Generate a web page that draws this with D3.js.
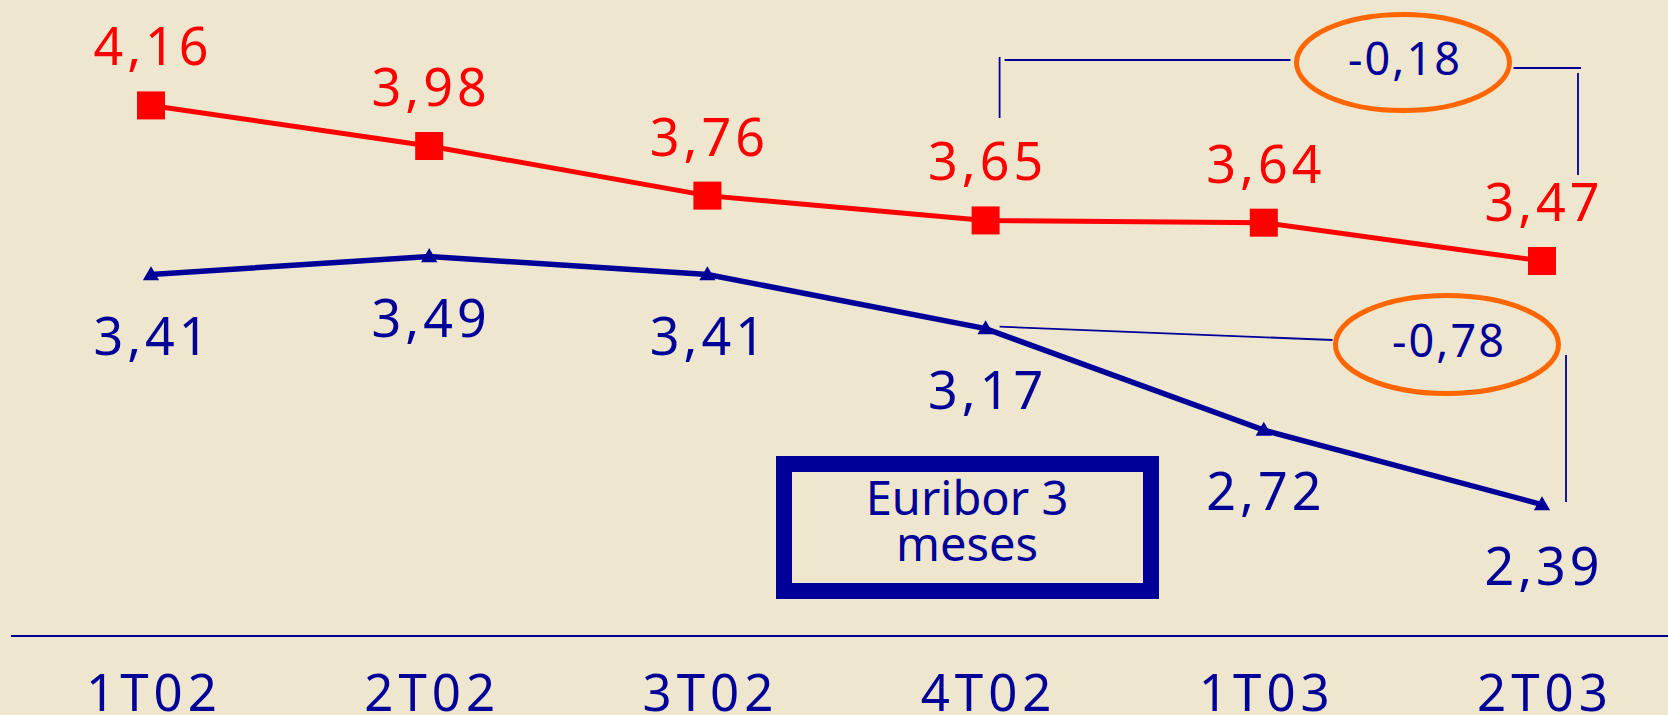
<!DOCTYPE html>
<html>
<head>
<meta charset="utf-8">
<script src="https://cdn.jsdelivr.net/npm/d3@7"></script>
<style>
  html, body { margin: 0; padding: 0; background: #EEE6CE; }
  svg { display: block; }
</style>
</head>
<body>
<svg id="chart" width="1668" height="715"></svg>
<script>
// ---- data ----
const categories = ["1T02", "2T02", "3T02", "4T02", "1T03", "2T03"];
const redValues  = [4.16, 3.98, 3.76, 3.65, 3.64, 3.47];
const blueValues = [3.41, 3.49, 3.41, 3.17, 2.72, 2.39];
const redLabels  = ["4,16", "3,98", "3,76", "3,65", "3,64", "3,47"];
const blueLabels = ["3,41", "3,49", "3,41", "3,17", "2,72", "2,39"];
const deltaRed   = "-0,18";
const deltaBlue  = "-0,78";
const boxLines   = ["Euribor 3", "meses"];

// ---- setup ----
const W = 1668, H = 715;
const BLUE = "#000099", RED = "#FF0000", ORANGE = "#FF6600";
const FONT = "'Noto Sans', 'DejaVu Sans', sans-serif";
const svg = d3.select("#chart");
svg.append("rect").attr("width", W).attr("height", H).attr("fill", "#EEE6CE");

const x = d3.scalePoint().domain(categories).range([151, 1542]);
const y = d3.scaleLinear().domain([2, 4.5]).range([592.5, 28.75]);

// ---- x axis ----
const axisY = 636;
const xAxis = d3.axisBottom(x).tickSize(0).tickPadding(0);
const gx = svg.append("g").attr("transform", `translate(0,${axisY})`).call(xAxis);
gx.select(".domain").remove();
gx.append("line").attr("x1", 11).attr("x2", W).attr("y1", 0).attr("y2", 0)
  .attr("stroke", BLUE).attr("stroke-width", 2.2);
gx.selectAll(".tick text")
  .attr("y", 75).attr("dy", 0).attr("dx", 2.5)
  .attr("fill", BLUE)
  .style("font-family", FONT).style("font-size", "51px")
  .style("letter-spacing", "5px");

// ---- lines ----
const line = (vals) => d3.line().x((d, i) => x(categories[i])).y(d => y(d))(vals);
svg.append("path").attr("d", line(redValues)).attr("fill", "none")
  .attr("stroke", RED).attr("stroke-width", 5);
svg.append("path").attr("d", line(blueValues)).attr("fill", "none")
  .attr("stroke", BLUE).attr("stroke-width", 5.5);

// ---- markers ----
svg.selectAll(".sq").data(redValues).join("path")
  .attr("transform", (d, i) => `translate(${x(categories[i])},${y(d)})`)
  .attr("d", d3.symbol(d3.symbolSquare, 28 * 28))
  .attr("fill", RED);
svg.selectAll(".tri").data(blueValues).join("path")
  .attr("transform", (d, i) => `translate(${x(categories[i])},${y(d) + 1})`)
  .attr("d", d3.symbol(d3.symbolTriangle, 115))
  .attr("fill", BLUE);

// ---- value labels ----
svg.selectAll(".rl").data(redValues).join("text")
  .attr("x", (d, i) => x(categories[i]) + 2)
  .attr("y", d => y(d) - 40)
  .attr("text-anchor", "middle").attr("fill", RED)
  .style("font-family", FONT).style("font-size", "52px").style("letter-spacing", "4px")
  .text((d, i) => redLabels[i]);
svg.selectAll(".bl").data(blueValues).join("text")
  .attr("x", (d, i) => x(categories[i]) + 2)
  .attr("y", d => y(d) + 80)
  .attr("text-anchor", "middle").attr("fill", BLUE)
  .style("font-family", FONT).style("font-size", "52px").style("letter-spacing", "4px")
  .text((d, i) => blueLabels[i]);

// ---- annotations: difference brackets ----
const xa = x("4T02"), xb = x("2T03");
const ann = svg.append("g").attr("stroke", BLUE).attr("stroke-width", 1.8).attr("fill", "none");
// top (red) bracket
const e1 = { cx: xb - 139, cy: 62.5, rx: 106.5, ry: 48 };
ann.append("line").attr("x1", xa + 14).attr("x2", xa + 14).attr("y1", 57).attr("y2", 118);
ann.append("line").attr("x1", xa + 19).attr("x2", e1.cx - e1.rx - 6).attr("y1", 60).attr("y2", 60);
ann.append("line").attr("x1", e1.cx + e1.rx + 4).attr("x2", xb + 39).attr("y1", 68).attr("y2", 68);
ann.append("line").attr("x1", xb + 36).attr("x2", xb + 36).attr("y1", 73).attr("y2", 175);
// bottom (blue) bracket
const e2 = { cx: xb - 95, cy: 344.5, rx: 111.5, ry: 49 };
ann.append("line").attr("x1", xa + 14).attr("y1", y(blueValues[3]) - 2)
  .attr("x2", e2.cx - e2.rx - 3).attr("y2", 340);
ann.append("line").attr("x1", xb + 24).attr("x2", xb + 24).attr("y1", 355).attr("y2", 502);

[[e1, deltaRed], [e2, deltaBlue]].forEach(([e, t]) => {
  svg.append("ellipse").attr("cx", e.cx).attr("cy", e.cy).attr("rx", e.rx).attr("ry", e.ry)
    .attr("fill", "none").attr("stroke", ORANGE).attr("stroke-width", 5);
  svg.append("text").attr("x", e.cx + 2).attr("y", e.cy + 12.5)
    .attr("text-anchor", "middle").attr("fill", BLUE)
    .style("font-family", FONT).style("font-size", "45px").style("letter-spacing", "2px")
    .text(t);
});

// ---- legend box ----
svg.append("rect").attr("x", 784).attr("y", 464).attr("width", 367).attr("height", 127)
  .attr("fill", "none").attr("stroke", BLUE).attr("stroke-width", 16);
svg.selectAll(".bt").data(boxLines).join("text")
  .attr("x", 967).attr("y", (d, i) => 515 + i * 46)
  .attr("text-anchor", "middle").attr("fill", BLUE)
  .style("font-family", FONT).style("font-size", "47px")
  .text(d => d);
</script>
</body>
</html>
